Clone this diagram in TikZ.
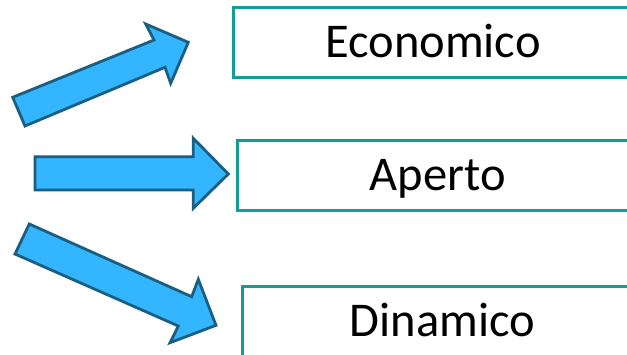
\documentclass[tikz,border=0pt]{standalone}
\usepackage{fontspec}
\setmainfont{Carlito}
\usepackage{tikz}
\usepackage{xcolor}
\usetikzlibrary{positioning}
\definecolor{arrowfill}{RGB}{51,181,255}
\definecolor{arrowline}{RGB}{26,94,128}
\definecolor{boxline}{RGB}{18,158,150}
\begin{document}
\begin{tikzpicture}[x=1pt,y=-1pt,
  bigarrow/.style={fill=arrowfill,draw=arrowline,line width=2.8pt,line join=miter},
  textbox/.style={draw=boxline,line width=3pt,minimum width=400pt,minimum height=70pt,
    inner sep=0pt,text height=31.5pt,text depth=0pt,font=\fontsize{48.5}{52}\selectfont}]
\useasboundingbox (0,0) rectangle (627,354);
\clip (0,0) rectangle (627,354);

\node[textbox] (eco) at (433,42) {Economico};
\node[textbox] (ape) at (437.6,175) {Aperto};
\node[textbox] (din) at (442.4,321) {Dinamico};

\draw[bigarrow] (12.7,97.3) -- (154,40) -- (145.7,24) -- (188.3,42.3) -- (170.7,83.3)
  -- (165,67.3) -- (25,126) -- cycle;
\draw[bigarrow] (35,156.7) -- (193.3,156.7) -- (193.3,138.3) -- (228.3,174) -- (193.3,208.3)
  -- (193.3,190) -- (35,190) -- cycle;
\draw[bigarrow] (29.3,224) -- (191.7,296.7) -- (198.3,279.3) -- (216,325.3) -- (170,342.7)
  -- (178.3,326) -- (15,254) -- cycle;

\end{tikzpicture}
\end{document}
